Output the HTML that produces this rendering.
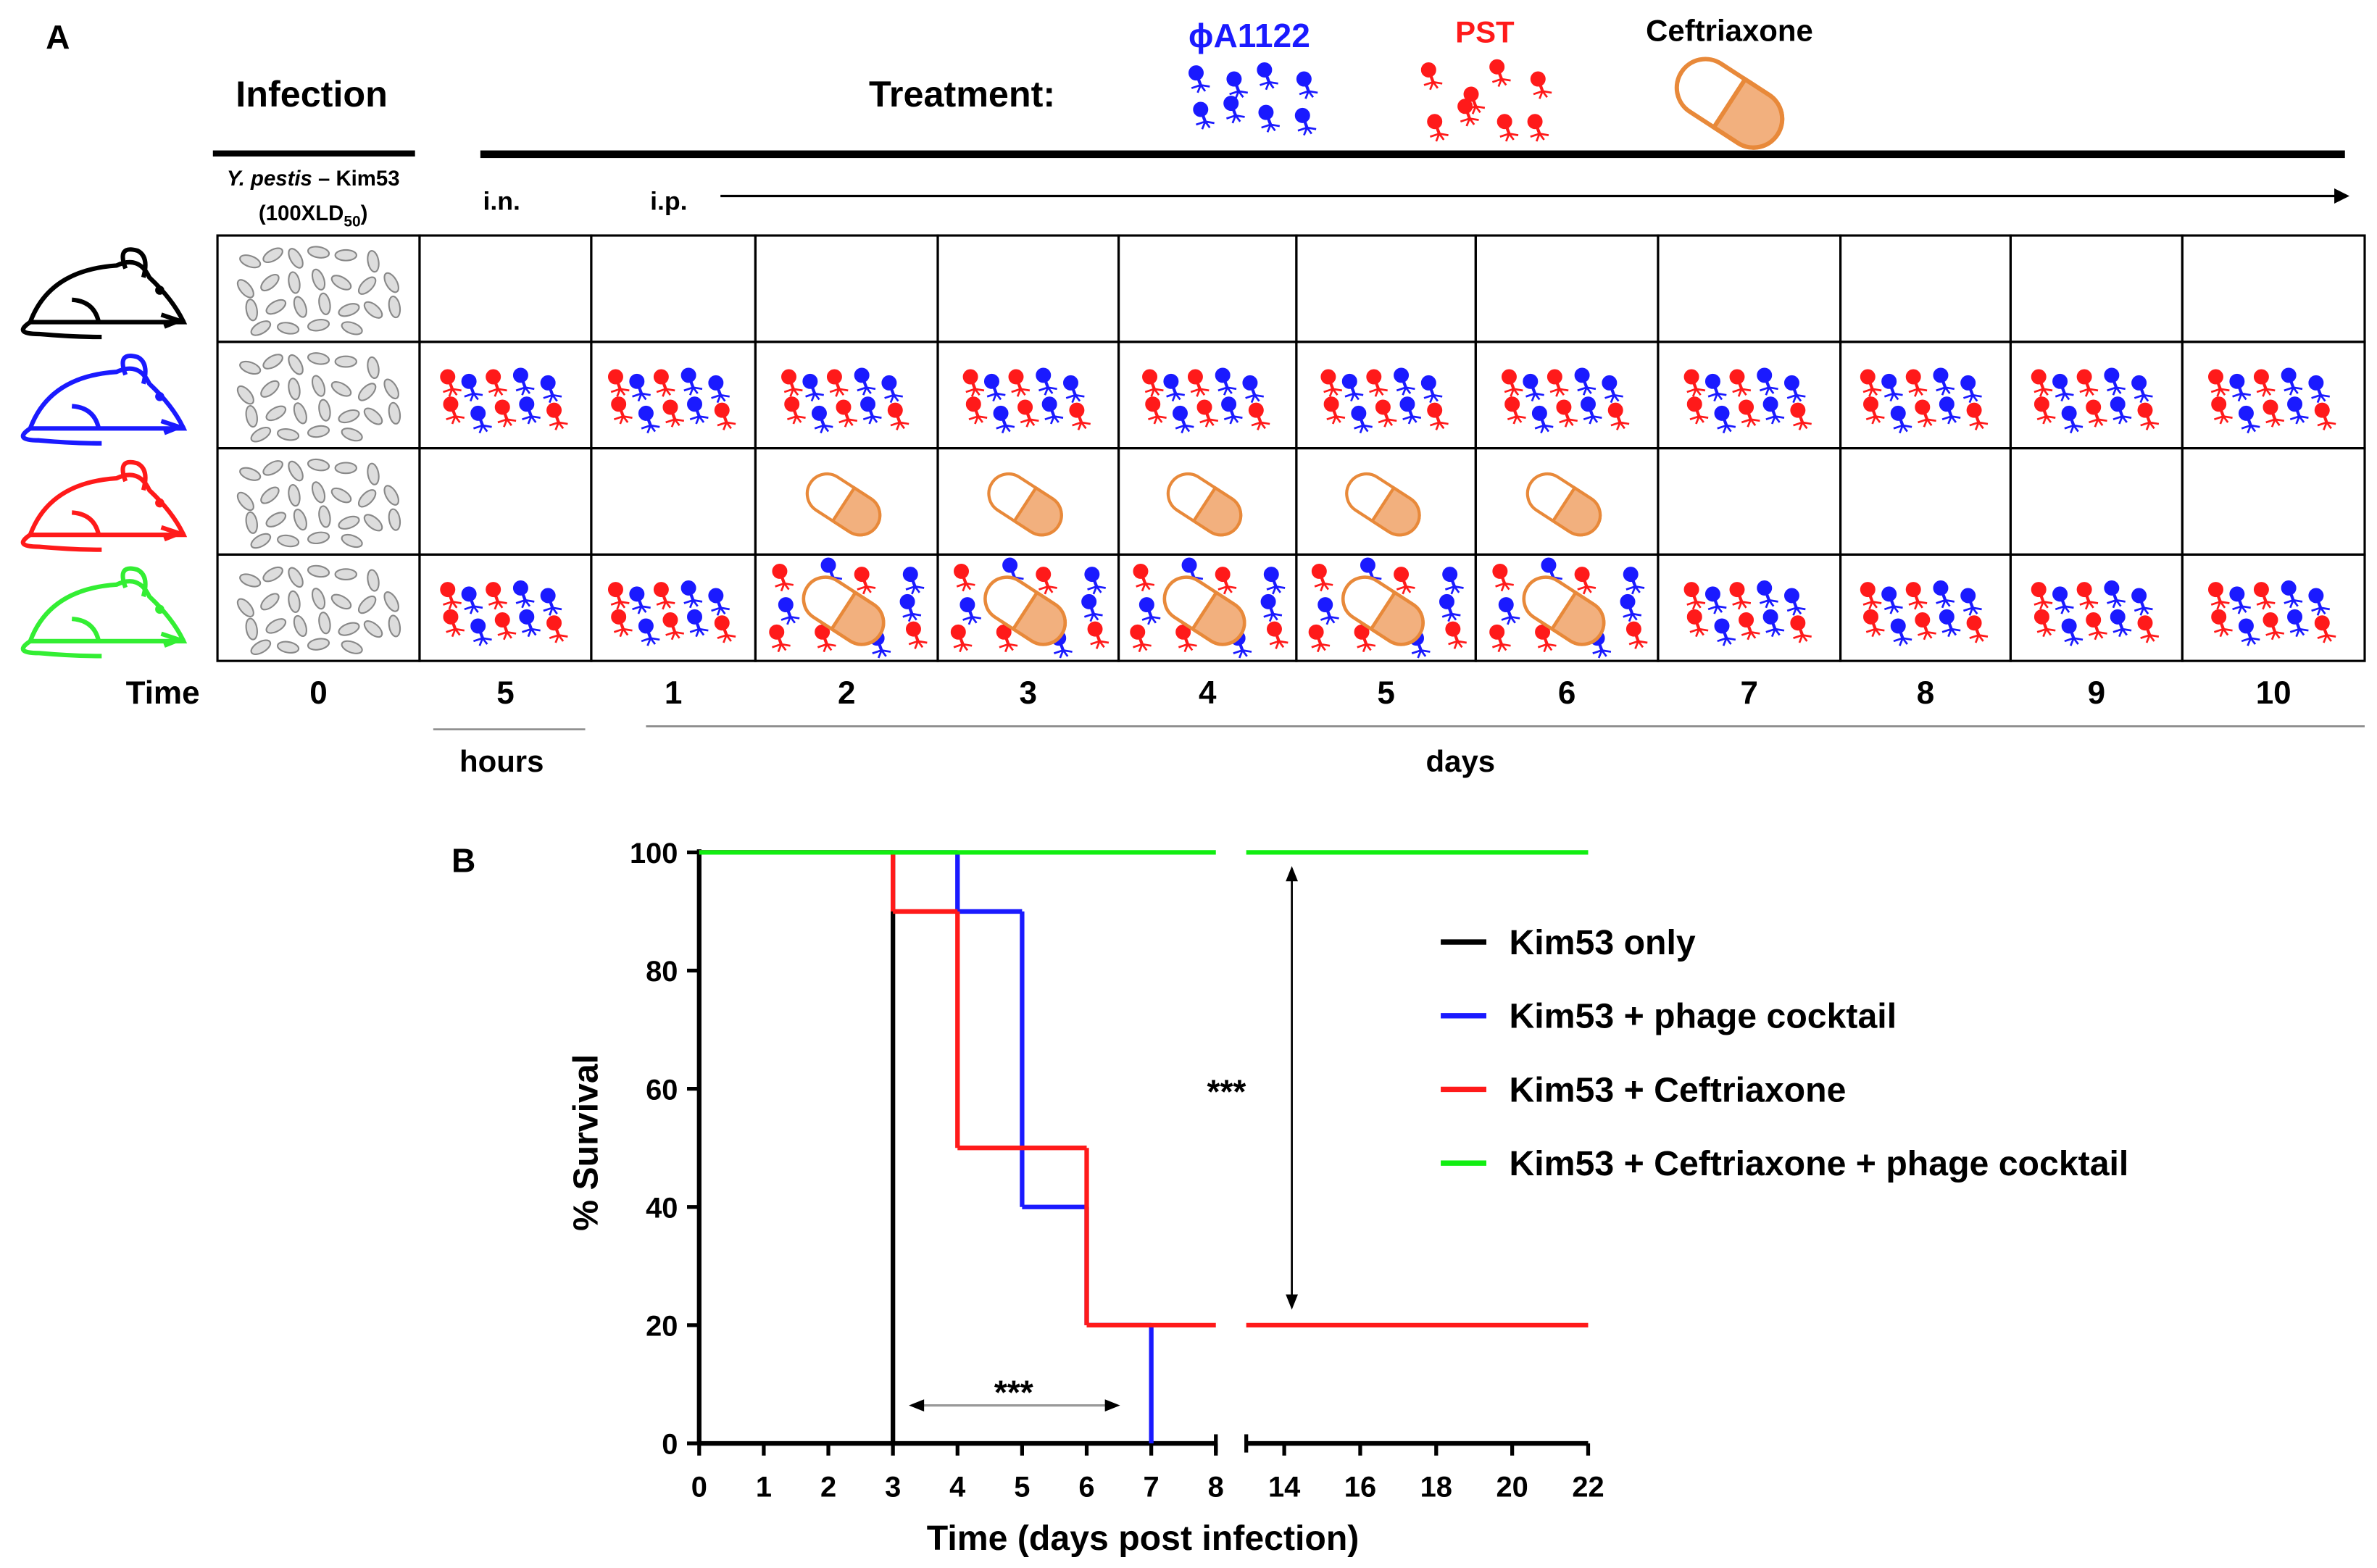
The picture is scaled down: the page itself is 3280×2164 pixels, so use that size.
<!DOCTYPE html>
<html><head><meta charset="utf-8"><style>
html,body{margin:0;padding:0;background:#fff;}
svg{display:block;font-family:"Liberation Sans",Arial,sans-serif;font-weight:bold;}
</style></head><body>
<svg id="fig" width="3280" height="2164" viewBox="0 0 1564 1032" xmlns="http://www.w3.org/2000/svg">
<defs>
<g id="phage"><line x1="0" y1="0" x2="3" y2="8" stroke-width="2"/><circle cx="0" cy="0" r="4.5"/><path d="M3 8 l-6 2 m6 -2 l-2 5 m2 -5 l3 4 m-3 -4 l6 1" fill="none" stroke-width="1.3"/></g>
<g id="pill"><g transform="rotate(33)"><rect x="-26" y="-13" width="52" height="26" rx="13" fill="#fff" stroke="#e8893a" stroke-width="2"/><path d="M0 -13 H13 A13 13 0 0 1 13 13 H0 Z" fill="#f2b07e" stroke="#e8893a" stroke-width="2"/></g></g>
<g id="mouse" fill="none" stroke-width="3"><path d="M12 50 Q25 15 70 12 Q85 5 92 20 Q108 35 115 50 Z"/><path d="M76 14 Q70 -2 84 2 Q92 6 88 20"/><path d="M40 35 Q55 36 58 50"/><path d="M12 50 Q0 58 18 58 Q40 60 60 60"/><path d="M100 45 l12 4 l-10 4"/></g>
</defs>
<text x="30" y="32" font-size="22">A</text>
<text x="205" y="70" font-size="24" text-anchor="middle">Infection</text>
<text x="633" y="70" font-size="24" text-anchor="middle">Treatment:</text>
<rect x="140" y="99" width="133" height="4" fill="#000"/>
<rect x="316" y="99" width="1227" height="5" fill="#000"/>
<text x="206" y="122" font-size="14" text-anchor="middle"><tspan font-style="italic">Y. pestis</tspan> – Kim53</text>
<text x="206" y="145" font-size="14" text-anchor="middle">(100XLD<tspan font-size="10" dy="4">50</tspan><tspan dy="-4">)</tspan></text>
<text x="330" y="138" font-size="17" text-anchor="middle">i.n.</text>
<text x="440" y="138" font-size="17" text-anchor="middle">i.p.</text>
<line x1="474" y1="129" x2="1538" y2="129" stroke="#000" stroke-width="1.5"/>
<path d="M1546 129 l-10 -5 v10z" fill="#000"/>
<text x="822" y="31" font-size="22" fill="#1a1aff" text-anchor="middle">ϕA1122</text>
<text x="977" y="28" font-size="20" fill="#ff1a1a" text-anchor="middle">PST</text>
<text x="1138" y="27" font-size="20" text-anchor="middle">Ceftriaxone</text>
<g id="hdr-blue" fill="#1a1aff" stroke="#1a1aff">
<use href="#phage" x="787" y="48"/><use href="#phage" x="812" y="52"/><use href="#phage" x="832" y="46"/><use href="#phage" x="858" y="52"/>
<use href="#phage" x="790" y="72"/><use href="#phage" x="810" y="68"/><use href="#phage" x="833" y="74"/><use href="#phage" x="857" y="76"/>
</g>
<g id="hdr-red" fill="#ff1a1a" stroke="#ff1a1a">
<use href="#phage" x="940" y="46"/><use href="#phage" x="964" y="70"/><use href="#phage" x="985" y="44"/><use href="#phage" x="1012" y="52"/>
<use href="#phage" x="944" y="80"/><use href="#phage" x="968" y="62"/><use href="#phage" x="990" y="80"/><use href="#phage" x="1010" y="80"/>
</g>
<use href="#pill" transform="translate(1138,68) scale(1.45)"/>
<g id="cells"></g>
<text x="107" y="463" font-size="21" text-anchor="middle">Time</text>
<g id="timelabels"></g>
<line x1="285" y1="480" x2="385" y2="480" stroke="#888" stroke-width="1.2"/>
<line x1="425" y1="478" x2="1556" y2="478" stroke="#888" stroke-width="1.2"/>
<text x="330" y="508" font-size="20" text-anchor="middle">hours</text>
<text x="961" y="508" font-size="20" text-anchor="middle">days</text>
<text x="297" y="574" font-size="22">B</text>
<g id="chart"></g>
</svg>
<script>
const NS='http://www.w3.org/2000/svg';
function mk(tag,attrs,parent){const e=document.createElementNS(NS,tag);for(const k in attrs)e.setAttribute(k,attrs[k]);parent.appendChild(e);return e;}
// ---------- Panel A ----------
const colEdges=[143,276,389,497,617,736,853,971,1091,1211,1323,1436,1556];
const rowEdges=[155,225,295,365,435];
const timeLabels=['0','5','1','2','3','4','5','6','7','8','9','10'];
const mouseColors=['#000','#1a1aff','#ff1a1a','#33ee33'];
const cells=document.getElementById('cells');
const tl=document.getElementById('timelabels');
const fig=document.getElementById('fig');
mouseColors.forEach((c,i)=>{
  const u=mk('use',{href:'#mouse',stroke:c,transform:`translate(8,${rowEdges[i]+8}) scale(0.98)`},fig);
  
  
  mk('circle',{cx:105,cy:rowEdges[i]+36,r:3,fill:c},fig);
});
const bact=[[-45,-18,20],[-30,-22,-30],[-15,-20,60],[0,-24,10],[18,-22,0],[36,-18,80],[-48,0,50],[-32,-4,-40],[-16,-4,80],[0,-6,70],[15,-4,30],[32,-2,-45],[48,-4,60],[-44,14,80],[-28,12,-30],[-12,12,70],[4,10,80],[20,14,-20],[36,14,40],[-20,26,10],[0,24,-10],[22,26,20],[-38,26,-30],[50,12,80]];
function drawCell(ci,ri){
  const x0=colEdges[ci],x1=colEdges[ci+1],y0=rowEdges[ri],y1=rowEdges[ri+1];
  const cx=(x0+x1)/2,cy=(y0+y1)/2;
  const g=mk('g',{},cells);
  
  
  mk('rect',{x:x0,y:y0,width:x1-x0,height:y1-y0,fill:'none',stroke:'#000','stroke-width':1.5},g);
  if(ci===0){bact.forEach(b=>mk('ellipse',{cx:cx+b[0],cy:cy+b[1],rx:7,ry:3.5,fill:'#ddd',stroke:'#888','stroke-width':1,transform:`rotate(${b[2]} ${cx+b[0]} ${cy+b[1]})`},g));return;}
  const phage=(ri===1)||(ri===3);
  const pill=(ri===2||ri===3)&&ci>=3&&ci<=7;
  if(phage&&!pill){
    const P=[[-38,-12,'r'],[-24,-9,'b'],[-8,-12,'r'],[10,-13,'b'],[28,-8,'b'],[-36,6,'r'],[-18,12,'b'],[-2,8,'r'],[14,6,'b'],[32,10,'r']];
    P.forEach(p=>mk('use',{href:'#phage',x:cx+p[0],y:cy+p[1],fill:p[2]==='r'?'#ff1a1a':'#1a1aff',stroke:p[2]==='r'?'#ff1a1a':'#1a1aff'},g));
  }
  if(pill){
    if(ri===3){
      const P=[[-44,-24,'r'],[-12,-28,'b'],[10,-22,'r'],[42,-22,'b'],[-40,-2,'b'],[40,-4,'b'],[-46,16,'r'],[-16,16,'r'],[20,20,'b'],[44,14,'r']];
      P.forEach(p=>mk('use',{href:'#phage',x:cx+p[0],y:cy+p[1],fill:p[2]==='r'?'#ff1a1a':'#1a1aff',stroke:p[2]==='r'?'#ff1a1a':'#1a1aff'},g));
    }
    mk('use',{href:'#pill',transform:`translate(${cx-2},${cy+2}) scale(${ri===3?1.1:1})`},g);
  }
}
for(let r=0;r<4;r++)for(let c=0;c<12;c++)drawCell(c,r);
timeLabels.forEach((t,i)=>{
  const e=mk('text',{x:(colEdges[i]+colEdges[i+1])/2,y:463,'font-size':21,'text-anchor':'middle'},tl);
  e.textContent=t;
  
  
});
</script>
<script>
// ---------- Panel B: survival chart ----------
const seriesNames=['Kim53 only','Kim53 + phage cocktail','Kim53 + Ceftriaxone','Kim53 + Ceftriaxone + phage cocktail'];
const seriesColors=['#000','#1a1aff','#ff1a1a','#11ee11'];
const kimOnlyT=[0,3,3];       const kimOnlyV=[100,100,0];
const phageT=[0,4,4,5,5,6,6,7,7];  const phageV=[100,100,90,90,40,40,20,20,0];
const ceftT=[0,3,3,4,4,6,6,22];    const ceftV=[100,100,90,90,50,50,20,20];
const comboT=[0,22];               const comboV=[100,100];
const yTicks=[0,20,40,60,80,100];
const xTicksLeft=[0,1,2,3,4,5,6,7,8];
const xTicksRight=[14,16,18,20,22];
const seriesT=[kimOnlyT,phageT,ceftT,comboT];
const seriesV=[kimOnlyV,phageV,ceftV,comboV];

const C=document.getElementById('chart');
function xs(t){return t<=8?460+t*42.5:820+(t-13)*25;}
function ys(v){return 950-v*3.89;}
function mk2(tag,attrs){const e=document.createElementNS('http://www.w3.org/2000/svg',tag);for(const k in attrs)e.setAttribute(k,attrs[k]);C.appendChild(e);return e;}
let e=mk2('line',{x1:460,y1:ys(100)-2,x2:460,y2:ys(0),stroke:'#000','stroke-width':3});


e=mk2('line',{x1:460,y1:ys(0),x2:xs(8),y2:ys(0),stroke:'#000','stroke-width':3});


e=mk2('line',{x1:xs(13),y1:ys(0),x2:xs(22),y2:ys(0),stroke:'#000','stroke-width':3});


mk2('line',{x1:xs(8),y1:ys(0)-6,x2:xs(8),y2:ys(0)+6,stroke:'#000','stroke-width':2.5});
mk2('line',{x1:xs(13),y1:ys(0)-6,x2:xs(13),y2:ys(0)+6,stroke:'#000','stroke-width':2.5});
yTicks.forEach(v=>{
  mk2('line',{x1:452,y1:ys(v),x2:460,y2:ys(v),stroke:'#000','stroke-width':2.5});
  const t=mk2('text',{x:446,y:ys(v)+7,'font-size':19,'text-anchor':'end'});t.textContent=v;
  
  
});
xTicksLeft.concat(xTicksRight).forEach(v=>{
  mk2('line',{x1:xs(v),y1:ys(0),x2:xs(v),y2:ys(0)+8,stroke:'#000','stroke-width':2.5});
  const t=mk2('text',{x:xs(v),y:985,'font-size':19,'text-anchor':'middle'});t.textContent=v;
  
  
});
[0,1,2,3].forEach(si=>{
  const T=seriesT[si],V=seriesV[si];
  let dL='',dR='';
  for(let i=0;i<T.length-1;i++){
    const t0=T[i],t1=T[i+1],v0=V[i],v1=V[i+1];
    if(t1<=8){dL+=`M${xs(t0)} ${ys(v0)}L${xs(t1)} ${ys(v1)}`;}
    else{
      if(t0<8)dL+=`M${xs(t0)} ${ys(v0)}L${xs(8)} ${ys(v0)}`;
      dR+=`M${xs(Math.max(13,t0))} ${ys(v0)}L${xs(t1)} ${ys(v1)}`;
    }
  }
  const p=mk2('path',{d:dL+dR,fill:'none',stroke:seriesColors[si],'stroke-width':3});
  
  
});
seriesNames.forEach((n,i)=>{
  const y=620+i*48.5;
  mk2('line',{x1:948,y1:y,x2:978,y2:y,stroke:seriesColors[i],'stroke-width':3.5});
  const t=mk2('text',{x:993,y:y+8,'font-size':23});t.textContent=n;
  
  
});
let t=mk2('text',{x:0,y:0,'font-size':23,'text-anchor':'middle',transform:'translate(393,752) rotate(-90)'});t.textContent='% Survival';


t=mk2('text',{x:752,y:1020,'font-size':23,'text-anchor':'middle'});t.textContent='Time (days post infection)';


t=mk2('text',{x:807,y:726,'font-size':22,'text-anchor':'middle'});t.textContent='***';


mk2('line',{x1:850,y1:578,x2:850,y2:854,stroke:'#000','stroke-width':1.3});
mk2('path',{d:'M850 570 l-4 10 h8z M850 862 l-4 -10 h8z',fill:'#000'});
t=mk2('text',{x:667,y:924,'font-size':22,'text-anchor':'middle'});t.textContent='***';


mk2('line',{x1:606,y1:925,x2:729,y2:925,stroke:'#999','stroke-width':1.5});
mk2('path',{d:'M598 925 l10 -4 v8z M737 925 l-10 -4 v8z',fill:'#000'});
</script>
</body></html>
